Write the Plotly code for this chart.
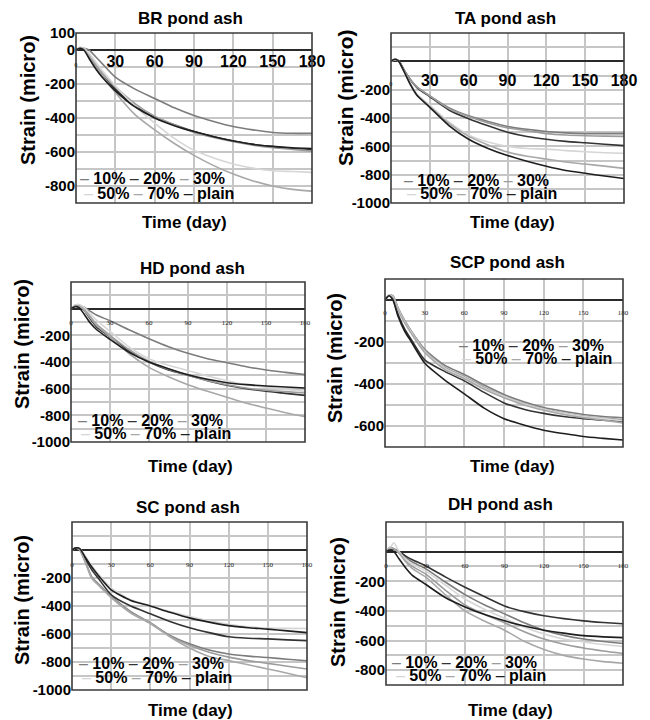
import plotly.graph_objects as go

# ---------------- data ----------------
DAYS = [0, 3, 6, 10, 15, 20, 30, 45, 60, 75, 90, 105, 120, 135, 150, 165, 180]
SERIES = ["10%", "20%", "30%", "50%", "70%", "plain"]
X_TICKS = [0, 30, 60, 90, 120, 150, 180]
X_TICKTEXT = ["0", "30", "60", "90", "120", "150", "180"]

BR = {
    "10%":   [0, 15, 10, 0, -40, -80, -160, -230, -285, -340, -385, -420, -450, -470, -485, -490, -490],
    "20%":   [0, 10, 5, -40, -100, -150, -230, -330, -395, -440, -480, -510, -535, -555, -568, -578, -585],
    "30%":   [0, 12, 8, -30, -85, -135, -215, -315, -390, -440, -485, -515, -540, -560, -575, -585, -595],
    "50%":   [0, 15, 10, -20, -70, -120, -210, -330, -430, -520, -590, -635, -670, -695, -710, -715, -720],
    "70%":   [0, 12, 5, -40, -100, -150, -250, -380, -470, -550, -620, -680, -730, -770, -800, -820, -830],
    "plain": [0, 10, 0, -50, -110, -160, -240, -335, -400, -445, -480, -510, -535, -555, -567, -575, -580],
}
TA = {
    "10%":   [0, 10, 0, -60, -130, -180, -245, -330, -385, -425, -460, -480, -495, -505, -510, -510, -510],
    "20%":   [0, 15, 5, -60, -130, -185, -250, -345, -405, -455, -500, -530, -550, -565, -575, -585, -595],
    "30%":   [0, 10, 0, -60, -130, -180, -245, -335, -390, -435, -470, -490, -510, -520, -525, -528, -530],
    "50%":   [0, 12, 0, -70, -160, -230, -310, -430, -520, -570, -600, -615, -620, -630, -638, -645, -650],
    "70%":   [0, 15, 0, -70, -160, -235, -320, -440, -530, -590, -640, -670, -690, -710, -725, -740, -756],
    "plain": [0, 15, 0, -70, -165, -240, -325, -455, -550, -615, -665, -705, -740, -770, -790, -810, -827],
}
HD = {
    "10%":   [0, 20, 25, 10, -20, -50, -90, -160, -225, -285, -335, -375, -405, -435, -460, -478, -495],
    "20%":   [0, 20, 25, -10, -80, -140, -210, -320, -400, -460, -500, -540, -575, -600, -620, -635, -650],
    "30%":   [0, 25, 30, 0, -60, -120, -200, -310, -395, -455, -500, -540, -570, -595, -612, -622, -632],
    "50%":   [0, 25, 30, 10, -40, -90, -170, -290, -375, -425, -465, -505, -540, -570, -590, -605, -620],
    "70%":   [0, 20, 20, -10, -70, -130, -210, -340, -440, -510, -570, -620, -665, -710, -745, -780, -810],
    "plain": [0, 15, 10, -40, -110, -160, -230, -330, -400, -450, -495, -530, -555, -570, -580, -588, -595],
}
SCP = {
    "10%":   [0, 25, 20, -40, -100, -150, -235, -310, -355, -405, -450, -485, -512, -530, -545, -555, -561],
    "20%":   [0, 20, 5, -70, -140, -190, -285, -340, -385, -440, -490, -520, -540, -555, -565, -572, -578],
    "30%":   [0, 25, 20, -40, -100, -150, -240, -320, -365, -415, -458, -492, -518, -538, -552, -562, -570],
    "50%":   [0, 25, 15, -45, -105, -155, -245, -325, -370, -420, -460, -495, -520, -540, -555, -565, -575],
    "70%":   [0, 20, 10, -50, -110, -160, -250, -330, -375, -425, -465, -500, -525, -545, -560, -572, -585],
    "plain": [0, 20, 0, -80, -150, -200, -300, -380, -447, -515, -565, -595, -620, -636, -650, -659, -667],
}
SC = {
    "10%":   [0, 15, 0, -80, -190, -240, -330, -440, -520, -610, -670, -715, -743, -758, -768, -780, -791],
    "20%":   [0, 15, 5, -60, -140, -200, -320, -400, -455, -510, -555, -590, -620, -630, -635, -642, -647],
    "30%":   [0, 15, 0, -80, -195, -245, -335, -445, -522, -615, -680, -730, -765, -790, -810, -830, -850],
    "50%":   [0, 15, 10, -40, -110, -170, -270, -355, -400, -440, -475, -505, -530, -548, -557, -560, -561],
    "70%":   [0, 15, 0, -85, -200, -250, -340, -450, -525, -620, -700, -760, -790, -820, -850, -880, -913],
    "plain": [0, 15, 10, -50, -120, -180, -285, -360, -400, -445, -485, -515, -540, -555, -565, -578, -590],
}
DH = {
    "10%":   [0, 20, 20, 0, -40, -70, -115, -205, -290, -360, -420, -480, -530, -565, -590, -607, -620],
    "20%":   [0, 15, 15, 0, -30, -55, -95, -170, -240, -305, -367, -405, -433, -452, -467, -478, -487],
    "30%":   [0, 30, 20, -10, -60, -100, -150, -260, -360, -425, -480, -540, -590, -625, -650, -670, -687],
    "50%":   [0, 25, 60, 0, -50, -85, -130, -225, -320, -390, -450, -510, -555, -590, -610, -627, -640],
    "70%":   [0, 20, 20, -10, -70, -115, -170, -290, -400, -470, -530, -605, -660, -700, -725, -742, -753],
    "plain": [0, 10, 0, -50, -110, -160, -220, -310, -373, -425, -467, -502, -530, -550, -567, -575, -580],
}

# ---------------- styling / layout ----------------
W, H = 650, 720
COLORS = {"10%": "#7c7c7c", "20%": "#333333", "30%": "#9c9c9c",
          "50%": "#d6d6d6", "70%": "#a8a8a8", "plain": "#1e1e1e"}
FONT = "Liberation Sans, Arial, sans-serif"

PANELS = [
    dict(name="BR pond ash", data=BR, box=(76, 312, 33, 203), yr=(-900, 100),
         ylab=[100, 0, -200, -400, -600, -800], big=True, xlabgap=0,
         title=(190, 18), ytitle=(28, 100, 20), xtitle=(184, 222),
         leg=(78, 178, 82, 194)),
    dict(name="TA pond ash", data=TA, box=(391, 624, 33, 203), yr=(-1000, 200),
         ylab=[-200, -400, -600, -800, -1000], big=True, xlabgap=4,
         title=(505, 18), ytitle=(346, 97, 21), xtitle=(512, 222),
         leg=(402, 180, 405, 194)),
    dict(name="HD pond ash", data=HD, box=(71, 305, 282, 442), yr=(-1000, 200),
         ylab=[-200, -400, -600, -800, -1000], big=False, xlabgap=7,
         title=(192, 268), ytitle=(22, 344, 20), xtitle=(190, 466),
         leg=(76, 420, 79, 433)),
    dict(name="SCP pond ash", data=SCP, box=(385, 623, 279, 447), yr=(-700, 100),
         ylab=[-200, -400, -600], big=False, xlabgap=6,
         title=(507, 262), ytitle=(335, 358, 20), xtitle=(512, 466),
         leg=(457, 345, 460, 358)),
    dict(name="SC pond ash", data=SC, box=(72, 307, 522, 690), yr=(-1000, 200),
         ylab=[-200, -400, -600, -800, -1000], big=False, xlabgap=8,
         title=(188, 507), ytitle=(22, 600, 20), xtitle=(190, 710),
         leg=(77, 663, 80, 677)),
    dict(name="DH pond ash", data=DH, box=(386, 623, 522, 685), yr=(-900, 200),
         ylab=[-200, -400, -600, -800], big=False, xlabgap=7,
         title=(500, 505), ytitle=(338, 602, 20), xtitle=(510, 710),
         leg=(390, 662, 394, 675)),
]

fig = go.Figure()
layout = dict(width=W, height=H, margin=dict(l=0, r=0, t=0, b=0, pad=0),
              autosize=False,
              paper_bgcolor="white", plot_bgcolor="white", showlegend=False)
annotations = []
shapes = []


def dash(s):
    return '<span style="color:%s">–</span>' % COLORS[s]


for i, p in enumerate(PANELS, start=1):
    xk = "x" if i == 1 else "x%d" % i
    yk = "y" if i == 1 else "y%d" % i
    x0, x1, y0, y1 = p["box"]
    ymin, ymax = p["yr"]
    xd = [x0 / W, x1 / W]
    yd = [1 - y1 / H, 1 - y0 / H]
    zero_pos = yd[0] + (0 - ymin) / (ymax - ymin) * (yd[1] - yd[0])

    for s in SERIES:
        fig.add_trace(go.Scatter(
            x=DAYS, y=p["data"][s], mode="lines", name=s,
            line=dict(color=COLORS[s], width=1.6, shape="spline", smoothing=0.6),
            xaxis=xk, yaxis=yk, hoverinfo="skip"))

    if p["big"]:
        tfont = dict(family=FONT, size=16, color="black", weight="bold")
        ttext = ["<span style='font-size:5px'>0</span>"] + X_TICKTEXT[1:]
    else:
        tfont = dict(family="Liberation Serif, serif", size=7, color="#222222")
        ttext = X_TICKTEXT

    layout["xaxis" if i == 1 else "xaxis%d" % i] = dict(
        domain=xd, anchor="free", position=zero_pos, range=[0, 180],
        automargin=False,
        tickmode="array", tickvals=X_TICKS, ticktext=ttext, tickfont=tfont,
        ticks="outside" if p["xlabgap"] > 0 else "",
        ticklen=max(p["xlabgap"], 1), tickcolor="rgba(0,0,0,0)",
        showgrid=True, gridcolor="#c6c6c6", gridwidth=1.5,
        showline=False, zeroline=False)

    yvals = list(range(ymin, ymax + 1, 100))
    ytext = [("<b>%d</b>" % v) if v in p["ylab"] else "" for v in yvals]
    layout["yaxis" if i == 1 else "yaxis%d" % i] = dict(
        domain=yd, anchor=xk, range=[ymin, ymax], automargin=False,
        tickmode="array", tickvals=yvals, ticktext=ytext,
        tickfont=dict(family=FONT, size=15, color="black"),
        showgrid=True, gridcolor="#c6c6c6", gridwidth=1.5,
        zeroline=True, zerolinecolor="#2a2a2a", zerolinewidth=1.6,
        showline=False, ticks="")

    shapes.append(dict(type="rect", xref=xk + " domain", yref=yk + " domain",
                       x0=0, x1=1, y0=0, y1=1,
                       line=dict(color="#3a3a3a", width=1.6)))

    tx, ty = p["title"]
    annotations.append(dict(text="<b>%s</b>" % p["name"], x=tx / W, y=1 - ty / H,
                            xref="paper", yref="paper", showarrow=False,
                            xanchor="center", yanchor="middle",
                            font=dict(family=FONT, size=17, color="black")))
    ax_, ay_, asz = p["ytitle"]
    annotations.append(dict(text="<b>Strain (micro)</b>", x=ax_ / W, y=1 - ay_ / H,
                            xref="paper", yref="paper", showarrow=False, textangle=-90,
                            xanchor="center", yanchor="middle",
                            font=dict(family=FONT, size=asz, color="black")))
    bx, by = p["xtitle"]
    annotations.append(dict(text="<b>Time (day)</b>", x=bx / W, y=1 - by / H,
                            xref="paper", yref="paper", showarrow=False,
                            xanchor="center", yanchor="middle",
                            font=dict(family=FONT, size=17, color="black")))
    lx1, ly1, lx2, ly2 = p["leg"]
    row1 = "%s <b>10%%</b> %s <b>20%%</b> %s <b>30%%</b>" % (dash("10%"), dash("20%"), dash("30%"))
    row2 = "%s <b>50%%</b> %s <b>70%%</b> %s <b>plain</b>" % (dash("50%"), dash("70%"), dash("plain"))
    for txt, lx, ly in ((row1, lx1, ly1), (row2, lx2, ly2)):
        annotations.append(dict(text=txt, x=lx / W, y=1 - ly / H,
                                xref="paper", yref="paper", showarrow=False,
                                xanchor="left", yanchor="middle",
                                font=dict(family=FONT, size=16, color="black")))

layout["annotations"] = annotations
layout["shapes"] = shapes
fig.update_layout(**layout)
fig.write_html("out.html")
